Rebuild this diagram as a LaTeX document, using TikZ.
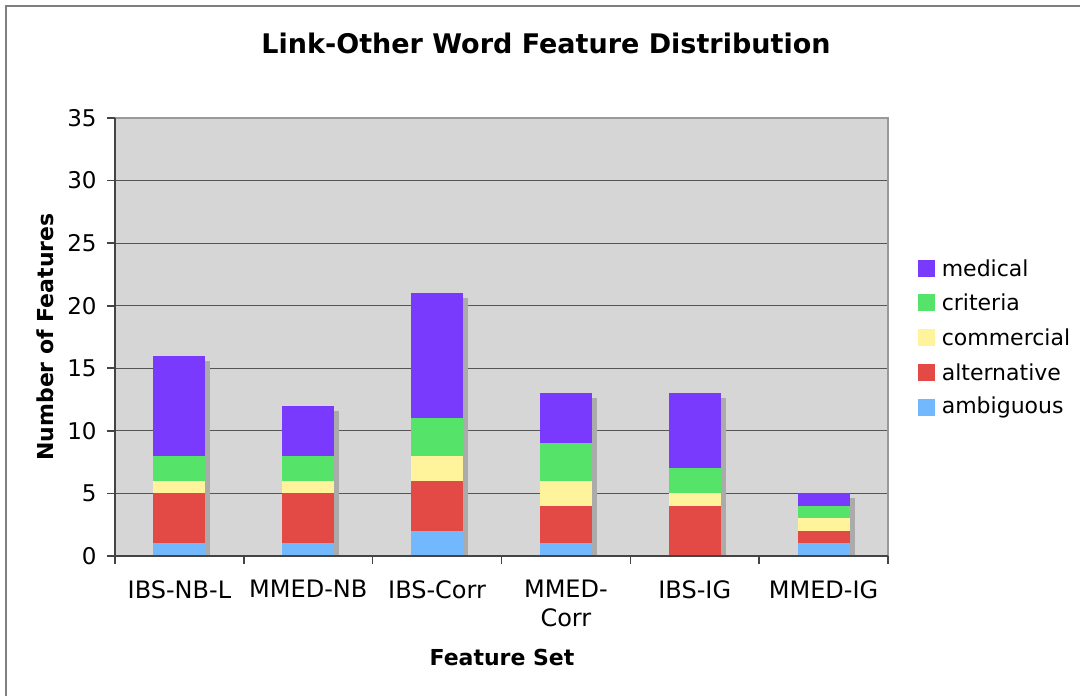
\documentclass[tikz,border=0pt]{standalone}
\usepackage{fontspec}
\setmainfont{DejaVu Sans}
\usepackage{xcolor}
\usetikzlibrary{positioning}
\definecolor{MedPurple}{HTML}{7A3AFD}
\definecolor{CritGreen}{HTML}{55E369}
\definecolor{CommYellow}{HTML}{FFF39B}
\definecolor{AltRed}{HTML}{E44A45}
\definecolor{AmbBlue}{HTML}{72B8FD}
\definecolor{PlotGray}{HTML}{D6D6D6}
\definecolor{GridGray}{HTML}{555555}
\definecolor{AxisGray}{HTML}{444444}
\definecolor{BorderGray}{HTML}{999999}
\definecolor{ShadowGray}{HTML}{ABABAB}
\definecolor{FrameGray}{HTML}{7F7F7F}
\tikzset{
  titletext/.style={font=\fontsize{13.5}{16}\selectfont\bfseries, inner sep=0pt},
  axislabel/.style={font=\fontsize{11}{13}\selectfont\bfseries, inner sep=0pt},
  ticklabel/.style={font=\fontsize{11.5}{13}\selectfont, anchor=east, inner sep=0pt},
  catlabel/.style={font=\fontsize{12}{14.5}\selectfont, align=center, anchor=north, inner sep=0pt},
  legkey/.style={minimum size=8.5pt, inner sep=0pt},
  legtext/.style={font=\fontsize{11}{13}\selectfont, anchor=west, inner sep=0pt},
  gridline/.style={draw=GridGray, line width=0.6pt},
  axisline/.style={draw=AxisGray, line width=0.8pt},
  barshadow/.style={fill=ShadowGray}
}
\begin{document}
\begin{tikzpicture}[x=0.5pt, y=-0.5pt]
  \useasboundingbox (0,0) rectangle (1080,696);
  % outer chart frame
  \draw[FrameGray, line width=1pt] (6,696) -- (6,6) -- (1080,6);
  \node[titletext] (title) at (546,43) {Link-Other Word Feature Distribution};
  \node[axislabel, rotate=90] (ylabel) at (45,337) {Number of Features};
  \node[axislabel] (xlabel) at (502,657) {Feature Set};

  % plot area, in data units
  \begin{scope}[xshift=57.5pt, yshift=-278pt, x=64.415pt, y=6.257pt]
    \fill[PlotGray] (0,0) rectangle (6,35);
    \foreach \v in {5,10,...,30}
      \draw[gridline] (0,\v) -- (6,\v);
    \draw[BorderGray, line width=1.2pt] (0,35) -- (6,35) -- (6,0);
    \foreach \v in {0,5,...,35} {
      \draw[axisline] (0,\v) -- ++(-4pt,0);
      \node[ticklabel] (ytick\v) at ([xshift=-9pt]0,\v) {\v};
    }
    \foreach \k in {0,...,6}
      \draw[axisline] (\k,0) -- ++(0,-4pt);

    \foreach \lab/\a/\b/\c/\d/\e [count=\i from 0] in
      {IBS-NB-L/1/4/1/2/8, MMED-NB/1/4/1/2/4, IBS-Corr/2/4/2/3/10,
       {MMED-\\Corr}/1/3/2/3/4, IBS-IG/0/4/1/2/6, MMED-IG/1/1/1/1/1} {
      \pgfmathsetmacro\xl{\i+0.2982}
      \pgfmathsetmacro\xr{\i+0.7018}
      \pgfmathsetmacro\ya{\a}
      \pgfmathsetmacro\yb{\ya+\b}
      \pgfmathsetmacro\yc{\yb+\c}
      \pgfmathsetmacro\yd{\yc+\d}
      \pgfmathsetmacro\ye{\yd+\e}
      \fill[barshadow] ([xshift=2.5pt]\xl,0) rectangle ([xshift=2.5pt, yshift=-2.5pt]\xr,\ye);
      \fill[AmbBlue] (\xl,0) rectangle (\xr,\ya);
      \fill[AltRed] (\xl,\ya) rectangle (\xr,\yb);
      \fill[CommYellow] (\xl,\yb) rectangle (\xr,\yc);
      \fill[CritGreen] (\xl,\yc) rectangle (\xr,\yd);
      \fill[MedPurple] (\xl,\yd) rectangle (\xr,\ye);
      \node[catlabel] (cat\i) at ([yshift=-12pt]\i+0.5,0) {\lab};
    }
    \draw[axisline] (0,35) -- (0,0) -- (6,0);
  \end{scope}

  % legend
  \foreach \lab/\col [count=\j from 0] in
    {medical/MedPurple, criteria/CritGreen, commercial/CommYellow,
     alternative/AltRed, ambiguous/AmbBlue} {
    \node[legkey, fill=\col] (key\j) at (926.5,268+34.75*\j) {};
    \node[legtext, right=3pt of key\j] (leg\j) {\lab};
  }
\end{tikzpicture}
\end{document}
